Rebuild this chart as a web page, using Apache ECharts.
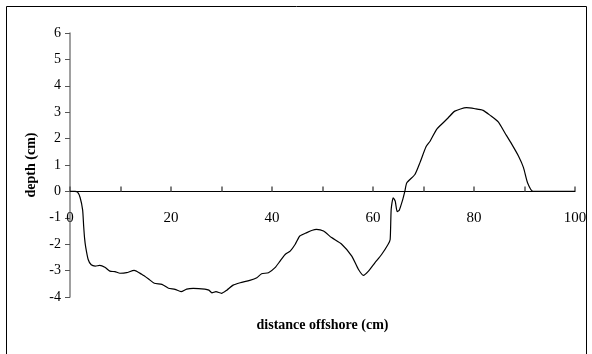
<!DOCTYPE html>
<html>
<head>
<meta charset="utf-8">
<script src="https://cdn.jsdelivr.net/npm/echarts@6/dist/echarts.min.js"></script>
<style>
  html, body { margin: 0; padding: 0; background: #fff; }
  #chart { width: 592px; height: 354px; }
</style>
</head>
<body>
<div id="chart"></div>
<script>
// Beach profile: distance offshore (cm) vs bed depth (cm)
var distance = [
  0, 1.0, 1.5, 2.0, 2.5, 2.7, 2.9, 3.1, 3.6, 4.2, 5.0, 5.9, 6.9, 7.9, 8.9, 9.9,
  11.2, 12.7, 14.2, 15.5, 16.7, 18.2, 19.5, 20.8, 22.0, 23.1, 24.4, 26.7, 27.5,
  28.1, 28.9, 30.0, 31.0, 32.3, 33.7, 35.6, 37.0, 37.95, 39.3, 40.6, 41.6, 42.6,
  43.6, 44.6, 45.5, 46.9, 48.0, 48.8, 50.2, 51.8, 53.8, 55.8, 57.1, 58.1, 59.1,
  60.4, 61.7, 63.0, 63.4, 63.6, 64.0, 64.4, 64.8, 65.2, 65.9, 66.3, 66.7, 68.3,
  69.3, 70.5, 71.3, 72.6, 73.9, 74.9, 76.2, 78.5, 80.2, 81.8, 83.2, 84.8, 86.1,
  87.5, 88.8, 89.8, 90.6, 91.7, 100
];
var depth = [
  0, 0, -0.03, -0.23, -0.7, -1.3, -1.8, -2.1, -2.58, -2.78, -2.83, -2.8, -2.87, -3.02, -3.04, -3.1,
  -3.08, -2.99, -3.14, -3.31, -3.48, -3.52, -3.67, -3.71, -3.80, -3.70, -3.67, -3.70, -3.74,
  -3.84, -3.8, -3.86, -3.75, -3.55, -3.46, -3.37, -3.27, -3.12, -3.08, -2.89, -2.64, -2.39,
  -2.26, -2.0, -1.69, -1.56, -1.47, -1.44, -1.5, -1.75, -2.0, -2.45, -2.95, -3.18, -3.02,
  -2.7, -2.39, -2.0, -1.82, -0.68, -0.24, -0.37, -0.77, -0.71, -0.3, 0, 0.33, 0.64,
  1.09, 1.69, 1.9, 2.35, 2.6, 2.79, 3.04, 3.17, 3.13, 3.07, 2.88, 2.63, 2.22,
  1.78, 1.34, 0.9, 0.33, 0, 0
];
var xLabelStep = 20;

var points = distance.map(function (d, i) { return [d, depth[i]]; });
var serif = '"Liberation Serif", "Times New Roman", serif';

var chart = echarts.init(document.getElementById('chart'), null, { renderer: 'canvas' });
chart.setOption({
  animation: false,
  backgroundColor: '#ffffff',
  textStyle: { fontFamily: serif, color: '#000' },
  graphic: [{
    type: 'rect',
    shape: { x: 6.5, y: 6.5, width: 580, height: 360 },
    style: { fill: 'none', stroke: '#000', lineWidth: 1 },
    silent: true
  }],
  grid: { left: 70, right: 17, top: 33, bottom: 57, containLabel: false, outerBoundsMode: 'none' },
  xAxis: {
    type: 'value',
    min: 0, max: 100, interval: 10,
    name: 'distance offshore (cm)',
    nameLocation: 'middle',
    nameGap: 21,
    nameTextStyle: { fontFamily: serif, fontWeight: 'bold', fontSize: 14, color: '#000' },
    axisLine: { onZero: true, lineStyle: { color: '#000', width: 1 } },
    axisTick: { inside: true, length: 5, lineStyle: { color: '#555', width: 1.5 } },
    axisLabel: {
      margin: -86, fontFamily: serif, fontSize: 15, color: '#000',
      showMinLabel: true, showMaxLabel: true,
      formatter: function (v) { return v % xLabelStep === 0 ? String(v) : ''; }
    },
    splitLine: { show: false }
  },
  yAxis: {
    type: 'value',
    min: -4, max: 6, interval: 1,
    name: 'depth (cm)',
    nameLocation: 'middle',
    nameGap: 26,
    nameTextStyle: { fontFamily: serif, fontWeight: 'bold', fontSize: 14, color: '#000' },
    axisLine: { show: true, onZero: false, lineStyle: { color: '#808080', width: 1.5 } },
    axisTick: { show: true, inside: false, length: 5, lineStyle: { color: '#555', width: 1 } },
    axisLabel: { margin: 9, fontFamily: serif, fontSize: 14, color: '#000' },
    splitLine: { show: false }
  },
  series: [{
    type: 'line',
    data: points,
    showSymbol: false,
    smooth: 0.2,
    lineStyle: { color: '#000', width: 1.2 },
    z: 3
  }]
});
</script>
</body>
</html>
